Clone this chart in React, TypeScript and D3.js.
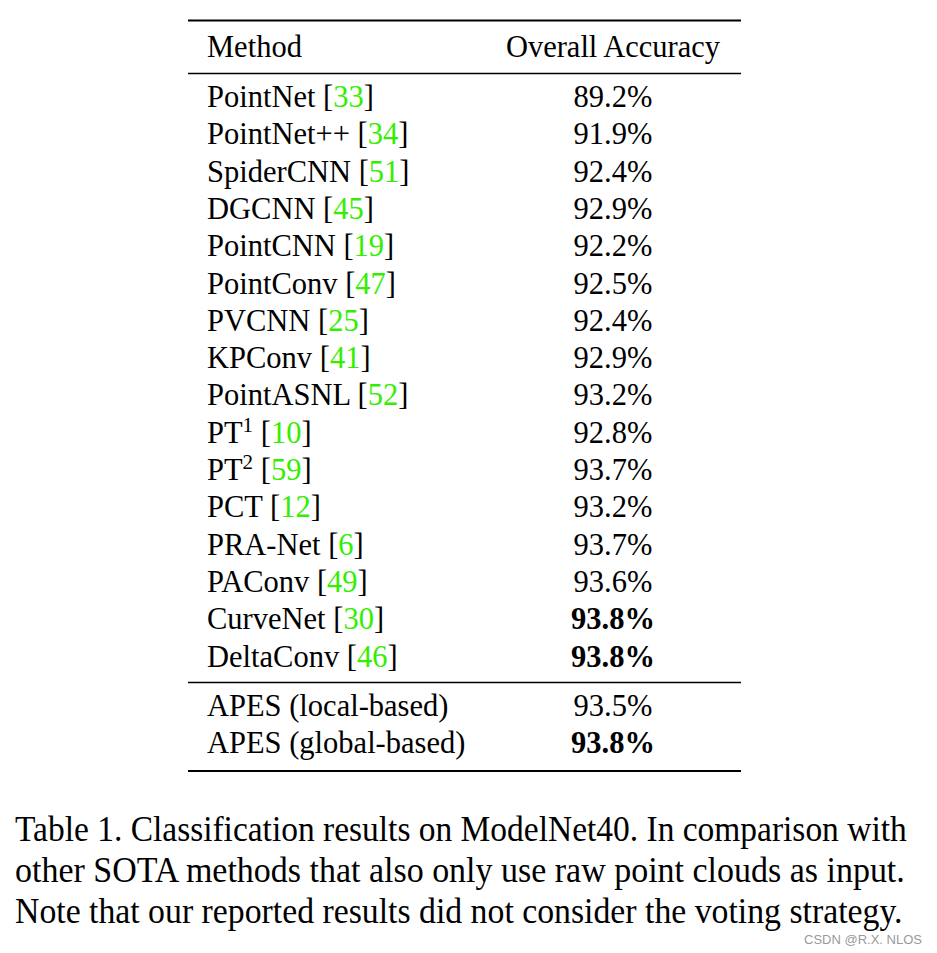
import React, { useLayoutEffect, useRef, useState } from "react";
import * as d3 from "d3";

const methods = ["PointNet", "PointNet++", "SpiderCNN", "DGCNN", "PointCNN", "PointConv", "PVCNN", "KPConv", "PointASNL", "PT", "PT", "PCT", "PRA-Net", "PAConv", "CurveNet", "DeltaConv"];
const supers = ["", "", "", "", "", "", "", "", "", "1", "2", "", "", "", "", ""];
const refs = ["33", "34", "51", "45", "19", "47", "25", "41", "52", "10", "59", "12", "6", "49", "30", "46"];
const accuracy = [89.2, 91.9, 92.4, 92.9, 92.2, 92.5, 92.4, 92.9, 93.2, 92.8, 93.7, 93.2, 93.7, 93.6, 93.8, 93.8];
const oursMethods = ["APES (local-based)", "APES (global-based)"];
const oursAccuracy = [93.5, 93.8];
const headers = ["Method", "Overall Accuracy"];
const captionLines = [
  "Table 1. Classification results on ModelNet40. In comparison with",
  "other SOTA methods that also only use raw point clouds as input.",
  "Note that our reported results did not consider the voting strategy.",
];
const captionWidths = [892, 890, 888];
const watermark = "CSDN @R.X. NLOS";

const FONT = "'Liberation Serif', 'Times New Roman', serif";
const GREEN = "#33ee00";

export default function App() {
  const capRefs = useRef<(SVGTextElement | null)[]>([]);
  const [scales, setScales] = useState<number[]>(captionLines.map(() => 1));

  useLayoutEffect(() => {
    const s = captionLines.map((_, i) => {
      const el = capRefs.current[i];
      if (!el) return 1;
      const w = el.getComputedTextLength();
      return w > 0 ? captionWidths[i] / w : 1;
    });
    setScales(s);
  }, []);

  const best = d3.max([...accuracy, ...oursAccuracy]) as number;
  const fmt = (v: number) => d3.format(".1f")(v) + "%";
  const rowY = d3.scaleLinear().domain([0, 1]).range([107, 144.3]);
  const oursY = d3.scaleLinear().domain([0, 1]).range([716, 753]);
  const capY = d3.scaleLinear().domain([0, 1]).range([841, 882]);
  const xLeft = 188, xRight = 741, xMethod = 207, xAcc = 613;
  const fs = 30.5;

  return (
    <svg width={937} height={953} style={{ position: "absolute", left: 0, top: 0, background: "#fff" }}>
      <rect width={937} height={953} fill="#fff" />
      <g fontFamily={FONT} fontSize={fs} fill="#000">
        <line x1={xLeft} x2={xRight} y1={20.5} y2={20.5} stroke="#000" strokeWidth={2.2} />
        <text x={xMethod} y={57}>{headers[0]}</text>
        <text x={xAcc} y={57} textAnchor="middle">{headers[1]}</text>
        <line x1={xLeft} x2={xRight} y1={73.5} y2={73.5} stroke="#000" strokeWidth={1.4} />
        {methods.map((m, i) => (
          <g key={i}>
            <text x={xMethod} y={rowY(i)}>
              {m}
              {supers[i] ? <tspan fontSize={21} dy={-11}>{supers[i]}</tspan> : null}
              {supers[i] ? <tspan dy={11}>{"  ["}</tspan> : <tspan>{" ["}</tspan>}
              <tspan fill={GREEN}>{refs[i]}</tspan>
              <tspan>]</tspan>
            </text>
            <text x={xAcc} y={rowY(i)} textAnchor="middle" fontWeight={accuracy[i] === best ? "bold" : "normal"}>
              {fmt(accuracy[i])}
            </text>
          </g>
        ))}
        <line x1={xLeft} x2={xRight} y1={682.5} y2={682.5} stroke="#000" strokeWidth={1.4} />
        {oursMethods.map((m, i) => (
          <g key={"o" + i}>
            <text x={xMethod} y={oursY(i)}>{m}</text>
            <text x={xAcc} y={oursY(i)} textAnchor="middle" fontWeight={oursAccuracy[i] === best ? "bold" : "normal"}>
              {fmt(oursAccuracy[i])}
            </text>
          </g>
        ))}
        <line x1={xLeft} x2={xRight} y1={771} y2={771} stroke="#000" strokeWidth={2.2} />
        {captionLines.map((c, i) => (
          <g key={"c" + i} transform={`translate(15,${capY(i)}) scale(${scales[i]},1)`}>
            <text ref={(el) => { capRefs.current[i] = el; }} x={0} y={0} fontSize={35}>
              {c}
            </text>
          </g>
        ))}
      </g>
      <text x={922} y={944} textAnchor="end" fontFamily="'Liberation Sans', Arial, sans-serif" fontSize={13} fill="#9a9a9a">
        {watermark}
      </text>
    </svg>
  );
}
